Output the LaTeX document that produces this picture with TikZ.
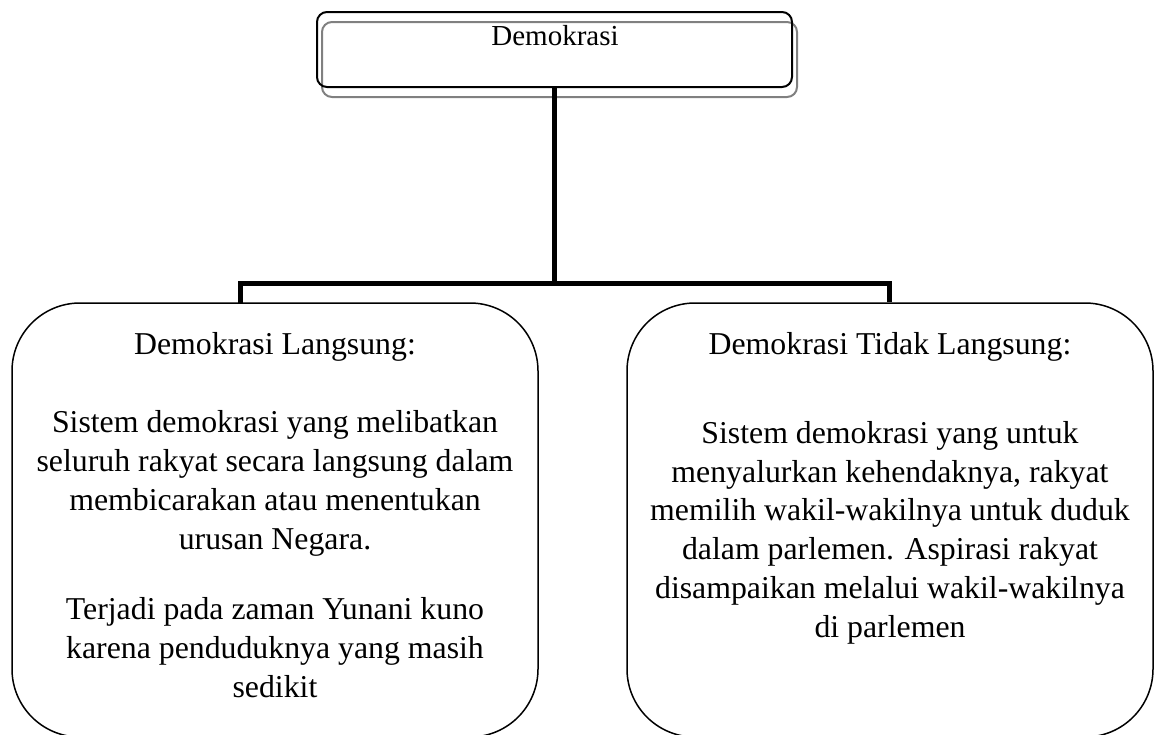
\documentclass[tikz,border=0pt]{standalone}
\usepackage{fontspec}
\setmainfont{Liberation Serif}
\begin{document}
\begin{tikzpicture}[x=1pt,y=-1pt,
  topbox/.style={draw=black,line width=2pt,rounded corners=10pt,minimum width=475pt,minimum height=75pt,inner sep=0pt},
  shadowbox/.style={draw=black!50,line width=2pt,rounded corners=10pt,minimum width=475pt,minimum height=75pt,inner sep=0pt},
  bigbox/.style={draw=black,line width=1.5pt,rounded corners=68pt,minimum width=526pt,minimum height=434pt,inner sep=0pt},
  conn/.style={draw=black,line width=5pt,line join=miter},
  txt/.style={inner sep=0pt,align=center,anchor=base,font=\fontsize{31.8pt}{38.7pt}\selectfont},
  toptxt/.style={inner sep=0pt,anchor=base,font=\fontsize{29pt}{34pt}\selectfont}]
\useasboundingbox (0,0) rectangle (1156,734);
% top box
\node[shadowbox] (sh) at (559.5,59.5) {};
\node[topbox] (top) at (554.5,49.5) {};
\node[toptxt] (toplabel) at (555,45) {Demokrasi};
% lower boxes
\node[bigbox] (L) at (275,520) {};
\node[bigbox] (R) at (890,520) {};
% texts (anchor base = baseline of the last line)
\node[txt] (Lh) at (275,354) {Demokrasi Langsung:};
\node[txt] (Lp1) at (275,549) {Sistem demokrasi yang melibatkan\\seluruh rakyat secara langsung dalam\\membicarakan atau menentukan\\urusan Negara.};
\node[txt] (Lp2) at (275,697) {Terjadi pada zaman Yunani kuno\\karena penduduknya yang masih\\sedikit};
\node[txt] (Rh) at (890,354) {Demokrasi Tidak Langsung:};
\node[txt] (Rp1) at (890,637) {Sistem demokrasi yang untuk\\menyalurkan kehendaknya, rakyat\\memilih wakil-wakilnya untuk duduk\\dalam parlemen. Aspirasi rakyat\\disampaikan melalui wakil-wakilnya\\di parlemen};
% connectors
\coordinate (j) at (554,283);
\coordinate (lt) at (240,303);
\draw[conn] (top.south -| j) -- (j);
\draw[conn] (238,283) -- (891.5,283);
\draw[conn] (lt) -- (lt |- j);
\draw[conn] (R.north -| 889,0) -- (889,283);
\end{tikzpicture}
\end{document}
